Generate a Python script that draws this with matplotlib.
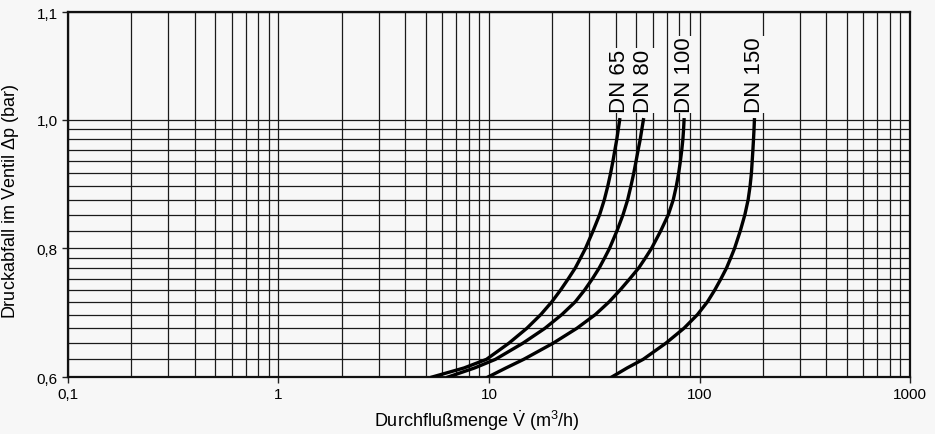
import numpy as np
import matplotlib
matplotlib.use("Agg")
import matplotlib.pyplot as plt
from matplotlib.ticker import FixedLocator, LogLocator, NullFormatter

plt.rcParams["font.family"] = ["Liberation Sans", "DejaVu Sans"]
plt.rcParams["mathtext.fontset"] = "custom"
plt.rcParams["mathtext.rm"] = "Liberation Sans"
plt.rcParams["mathtext.it"] = "Liberation Sans:italic"

# Druckabfall (bar) und Durchflussmengen (m3/h) je Nennweite
dp = [0.60, 0.61, 0.62, 0.64, 0.66, 0.68, 0.70, 0.72, 0.74, 0.76, 0.78,
      0.80, 0.82, 0.84, 0.86, 0.88, 0.90, 0.92, 0.94, 0.96, 0.98, 1.00]
q_dn65 = [5.37, 7.61, 9.73, 12.43, 15.12, 17.62, 19.89, 21.92, 23.84, 25.70, 27.23,
          28.73, 31.25, 33.55, 35.31, 36.68, 37.82, 38.78, 39.63, 40.46, 41.13, 41.77]
q_dn80 = [6.39, 8.54, 10.73, 14.49, 18.43, 22.18, 25.70, 28.51, 31.04, 33.40, 35.42,
          37.37, 40.56, 43.35, 45.58, 47.24, 48.71, 49.95, 51.10, 52.29, 53.21, 54.14]
q_dn100 = [9.89, 12.04, 14.62, 20.17, 26.13, 32.00, 37.24, 42.04, 46.73, 51.44, 55.35,
           59.16, 65.49, 71.14, 75.05, 77.62, 79.60, 81.10, 82.36, 83.37, 84.00, 84.46]
q_dn150 = [38.3, 45.3, 54.0, 69.2, 84.3, 97.8, 109.1, 118.3, 126.6, 134.4, 140.7,
           146.7, 156.3, 164.3, 170.2, 173.9, 176.4, 177.9, 179.3, 180.5, 181.5, 182.3]
series = [("DN 65", q_dn65), ("DN 80", q_dn80), ("DN 100", q_dn100), ("DN 150", q_dn150)]

x_ticks = [0.1, 1, 10, 100, 1000]
x_ticklabels = ["0,1", "1", "10", "100", "1000"]
y_ticks = [0.6, 0.8, 1.0, 1.1]
y_ticklabels = ["0,6", "0,8", "1,0", "1,1"]
y_grid = np.arange(0.6, 1.0001, 0.02)

TOP_UNIT = 0.837  # Hoehe von 1,0..1,1 relativ zu einem 0,2-Abschnitt


def fwd(y):
    """Diagrammpapier: je 0,2 bar ein log-Abschnitt, darueber linear"""
    y = np.asarray(y, dtype=float)
    lo = np.log2(1 + np.clip(y - 0.6, 0, 0.2) / 0.2)
    hi = np.log2(1 + np.clip(y - 0.8, 0, 0.2) / 0.2)
    top = np.clip(y - 1.0, 0, None) / 0.1 * TOP_UNIT
    below = np.clip(y - 0.6, None, 0) / 0.2
    return lo + hi + top + below


def inv(t):
    t = np.asarray(t, dtype=float)
    tc = np.clip(t, -50, 50)
    return np.where(
        t < 0, 0.6 + tc * 0.2,
        np.where(t < 1, 0.6 + 0.2 * (2 ** tc - 1),
                 np.where(t < 2, 0.8 + 0.2 * (2 ** (tc - 1) - 1),
                          1.0 + (tc - 2) / TOP_UNIT * 0.1)))


bg = "#f7f7f7"
fig = plt.figure(figsize=(9.35, 4.35), dpi=100, facecolor=bg)
ax = fig.add_axes([0.0727, 0.131, 0.9006, 0.839], facecolor=bg)

ax.set_xscale("log")
ax.set_yscale("function", functions=(fwd, inv))
ax.set_xlim(0.1, 1000)
ax.set_ylim(0.6, 1.1)

# Gitter
ax.xaxis.set_minor_locator(LogLocator(base=10, subs=np.arange(2, 10)))
ax.xaxis.set_minor_formatter(NullFormatter())
ax.yaxis.set_minor_locator(FixedLocator(y_grid))
ax.grid(True, which="both", color="#1a1a1a", linewidth=0.9)
ax.set_axisbelow(True)

ax.set_xticks(x_ticks)
ax.set_xticklabels(x_ticklabels)
ax.set_yticks(y_ticks)
ax.set_yticklabels(y_ticklabels)
ax.tick_params(which="major", direction="out", length=4, width=1,
               labelsize=11, color="#222222")
ax.tick_params(which="minor", length=0)

for s in ax.spines.values():
    s.set_linewidth(1.6)
    s.set_color("#111111")

# Kennlinien
for name, q in series:
    ax.plot(q, dp, color="black", linewidth=2.4, solid_joinstyle="round", zorder=4)
    ax.text(q[-1], 1.007, name, rotation=90, ha="center", va="bottom",
            fontsize=16, zorder=5,
            bbox=dict(facecolor=bg, edgecolor="none", pad=0.5))

ax.set_xlabel(r"Durchflußmenge $\dot{\mathrm{V}}$ (m$^3$/h)", fontsize=13)
ax.set_ylabel(r"Druckabfall im Ventil $\Delta$p (bar)", fontsize=13)
ax.xaxis.set_label_coords(0.485, -0.085)
ax.yaxis.set_label_coords(-0.056, 0.484)

fig.savefig("out.png", dpi=100, facecolor=bg)
